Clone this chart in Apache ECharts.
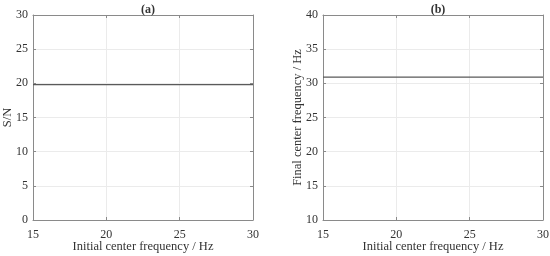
<!DOCTYPE html>
<html>
<head>
<meta charset="utf-8">
<script src="https://cdn.jsdelivr.net/npm/echarts@6/dist/echarts.min.js"></script>
<style>
  html, body { margin: 0; padding: 0; background: #fff; }
  #chart { width: 550px; height: 256px; }
</style>
</head>
<body>
<div id="chart"></div>
<script>
// initial center frequency (Hz)
const initFreq = [15, 17.5, 20, 22.5, 25, 27.5, 30];
// (a) S/N
const snValues = [19.8, 19.8, 19.8, 19.8, 19.8, 19.8, 19.8];
// (b) final center frequency (Hz)
const finalFreq = [30.9, 30.9, 30.9, 30.9, 30.9, 30.9, 30.9];

const FONT = '"Liberation Serif", "Times New Roman", serif';
const axisGray = '#8a8a8a';
const textCol = '#333';

const myChart = echarts.init(document.getElementById('chart'));

function mainX(gridIndex) {
  return {
    type: 'value', gridIndex: gridIndex, min: 15, max: 30, interval: 5,
    name: 'Initial center frequency / Hz', nameLocation: 'middle', nameGap: 20,
    nameMoveOverlap: false,
    nameTextStyle: { fontFamily: FONT, fontSize: 12.5, color: textCol },
    axisLine: { show: true, lineStyle: { color: axisGray } },
    axisTick: { show: true, inside: true, length: 3, lineStyle: { color: axisGray } },
    axisLabel: { fontFamily: FONT, fontSize: 12, color: textCol, margin: 9 },
    splitLine: { show: true, lineStyle: { color: '#ebebeb', width: 1 } }
  };
}
function topX(gridIndex) {
  return {
    type: 'value', gridIndex: gridIndex, position: 'top', min: 15, max: 30, interval: 5,
    axisLine: { show: true, onZero: false, lineStyle: { color: axisGray } },
    axisTick: { show: true, inside: true, length: 3, lineStyle: { color: axisGray } },
    axisLabel: { show: false }, splitLine: { show: false }
  };
}
function mainY(gridIndex, min, max, name, gap) {
  return {
    type: 'value', gridIndex: gridIndex, min: min, max: max, interval: 5,
    name: name, nameLocation: 'middle', nameGap: gap, nameMoveOverlap: false,
    nameTextStyle: { fontFamily: FONT, fontSize: 12.5, color: textCol },
    axisLine: { show: true, lineStyle: { color: axisGray } },
    axisTick: { show: true, inside: true, length: 3, lineStyle: { color: axisGray } },
    axisLabel: { fontFamily: FONT, fontSize: 12, color: textCol, margin: 5 },
    splitLine: { show: true, lineStyle: { color: '#ebebeb', width: 1 } }
  };
}
function rightY(gridIndex, min, max) {
  return {
    type: 'value', gridIndex: gridIndex, position: 'right', min: min, max: max, interval: 5,
    axisLine: { show: true, onZero: false, lineStyle: { color: axisGray } },
    axisTick: { show: true, inside: true, length: 3, lineStyle: { color: axisGray } },
    axisLabel: { show: false }, splitLine: { show: false }
  };
}

const option = {
  animation: false,
  backgroundColor: '#fff',
  title: [
    { text: '(a)', left: 143, top: -1, textAlign: 'center',
      textStyle: { fontFamily: FONT, fontSize: 12, fontWeight: 'bold', color: '#333' } },
    { text: '(b)', left: 433, top: -1, textAlign: 'center',
      textStyle: { fontFamily: FONT, fontSize: 12, fontWeight: 'bold', color: '#333' } }
  ],
  grid: [
    { left: 33, top: 15, width: 220, height: 205, outerBoundsMode: 'none', containLabel: false },
    { left: 323, top: 15, width: 220, height: 205, outerBoundsMode: 'none', containLabel: false }
  ],
  xAxis: [mainX(0), mainX(1), topX(0), topX(1)],
  yAxis: [mainY(0, 0, 30, 'S/N', 19), mainY(1, 10, 40, 'Final center frequency / Hz', 19),
          rightY(0, 0, 30), rightY(1, 10, 40)],
  series: [
    {
      type: 'line', xAxisIndex: 0, yAxisIndex: 0, showSymbol: false,
      lineStyle: { color: '#5a5a5a', width: 1.2 },
      data: initFreq.map((x, i) => [x, snValues[i]])
    },
    {
      type: 'line', xAxisIndex: 1, yAxisIndex: 1, showSymbol: false,
      lineStyle: { color: '#5a5a5a', width: 1.2 },
      data: initFreq.map((x, i) => [x, finalFreq[i]])
    }
  ]
};

myChart.setOption(option);
</script>
</body>
</html>
